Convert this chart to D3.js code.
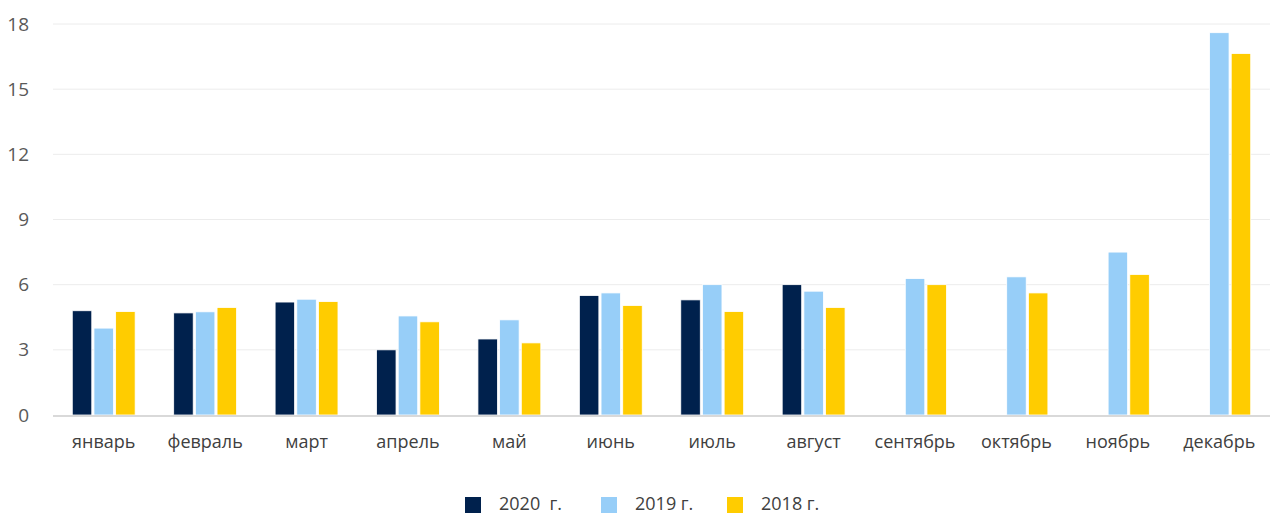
<!DOCTYPE html>
<html>
<head>
<meta charset="utf-8">
<script src="https://cdn.jsdelivr.net/npm/d3@7"></script>
<style>
  body { margin: 0; background: #fff; }
  text { font-family: "Open Sans", "Noto Sans", sans-serif; fill: #595959; }
</style>
</head>
<body>
<div id="chart-area"></div>
<script>
// data
var months = ["январь", "февраль", "март", "апрель", "май", "июнь", "июль", "август", "сентябрь", "октябрь", "ноябрь", "декабрь"];
var seriesNames = ["2020  г.", "2019 г.", "2018 г."];
var values2020 = [4.8, 4.7, 5.2, 3.0, 3.5, 5.5, 5.3, 6.0, null, null, null, null];
var values2019 = [4.0, 4.75, 5.33, 4.56, 4.38, 5.62, 6.0, 5.7, 6.28, 6.36, 7.5, 17.6];
var values2018 = [4.76, 4.95, 5.22, 4.29, 3.32, 5.04, 4.76, 4.95, 6.0, 5.62, 6.47, 16.64];
var yTicks = [0, 3, 6, 9, 12, 15, 18];
var colors = ["#00214d", "#97cef8", "#ffcc00"];

var allSeries = [values2020, values2019, values2018];

var totalW = 1274, totalH = 514;
var margin = {top: 24, right: 4, bottom: 99, left: 53};
var width = totalW - margin.left - margin.right,
    height = totalH - margin.top - margin.bottom;

var svg = d3.select("#chart-area").append("svg")
    .attr("width", totalW)
    .attr("height", totalH);

var g = svg.append("g")
    .attr("transform", "translate(" + margin.left + "," + margin.top + ")");

var x = d3.scaleBand()
    .domain(months)
    .range([0, width])
    .paddingInner(0.38)
    .paddingOuter(0.19);

var x1 = d3.scaleBand()
    .domain([0, 1, 2])
    .range([0, x.bandwidth()])
    .paddingInner(0.1);

var y = d3.scaleLinear()
    .domain([0, 18])
    .range([height, 0]);

// gridlines
g.selectAll(".grid")
    .data(yTicks.filter(function(d) { return d > 0; }))
    .enter().append("line")
    .attr("class", "grid")
    .attr("x1", 0)
    .attr("x2", width)
    .attr("y1", function(d) { return y(d); })
    .attr("y2", function(d) { return y(d); })
    .attr("stroke", "#ececec")
    .attr("stroke-width", 1);

// y labels
g.selectAll(".ylab")
    .data(yTicks)
    .enter().append("text")
    .attr("class", "ylab")
    .attr("x", -24)
    .attr("y", function(d) { return y(d); })
    .attr("dy", "0.35em")
    .attr("text-anchor", "end")
    .style("font-size", "19px")
    .text(function(d) { return d; });

// bars
var groups = g.selectAll(".month")
    .data(months)
    .enter().append("g")
    .attr("class", "month")
    .attr("transform", function(d) { return "translate(" + x(d) + ",0)"; });

groups.selectAll("rect")
    .data(function(d, i) {
        return allSeries.map(function(s, k) { return {k: k, v: s[i]}; })
            .filter(function(e) { return e.v !== null; });
    })
    .enter().append("rect")
    .attr("x", function(d) { return x1(d.k); })
    .attr("width", x1.bandwidth())
    .attr("y", function(d) { return y(d.v); })
    .attr("height", function(d) { return height - y(d.v); })
    .attr("fill", function(d) { return colors[d.k]; })
    .attr("stroke", "#fff")
    .attr("stroke-width", 0.8);

// baseline
g.append("line")
    .attr("x1", 0)
    .attr("x2", width)
    .attr("y1", height + 1)
    .attr("y2", height + 1)
    .attr("stroke", "#d9d9d9")
    .attr("stroke-width", 2);

// x labels
var xAxis = d3.axisBottom(x).tickSize(0).tickPadding(0);
var xg = g.append("g")
    .attr("transform", "translate(0," + (height + 27) + ")")
    .call(xAxis);
xg.select(".domain").remove();
xg.selectAll("text")
    .attr("dy", "0.35em")
    .style("font-size", "18px")
    .style("fill", "#404040")
    .attr("font-family", null);

// legend
var legendX = [465, 601, 727];
var legend = svg.selectAll(".legend")
    .data(seriesNames)
    .enter().append("g")
    .attr("class", "legend")
    .attr("transform", function(d, i) { return "translate(" + legendX[i] + ",497)"; });

legend.append("rect")
    .attr("width", 16)
    .attr("height", 16)
    .attr("fill", function(d, i) { return colors[i]; });

legend.append("text")
    .attr("x", 34)
    .attr("y", 7)
    .attr("dy", "0.35em")
    .style("font-size", "18px")
    .style("fill", "#404040")
    .style("white-space", "pre")
    .attr("xml:space", "preserve")
    .text(function(d) { return d; });
</script>
</body>
</html>
